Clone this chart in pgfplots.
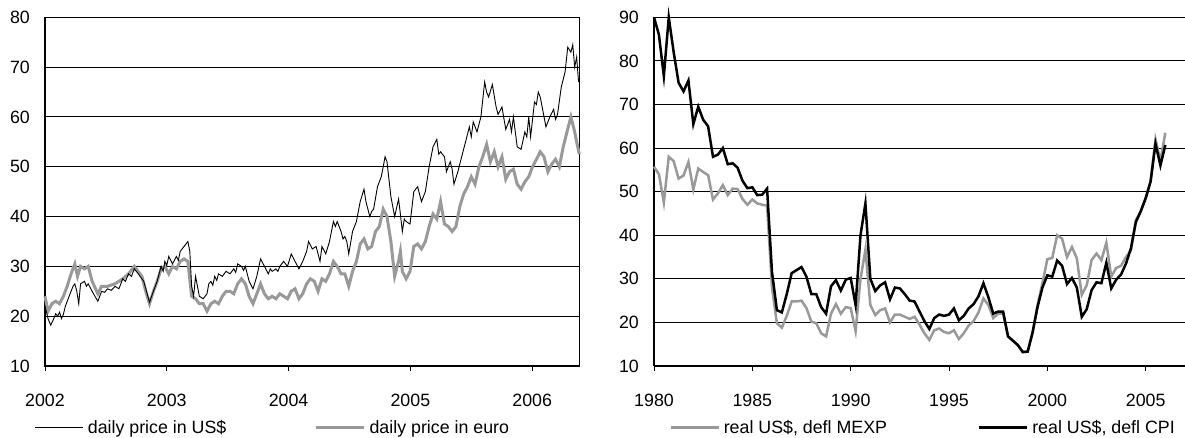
\documentclass[border=0pt]{standalone}
\usepackage{fontspec}
\setmainfont{Liberation Sans}
\usepackage{pgfplots}
\usepackage{pgfplotstable}
\pgfplotsset{compat=1.18}
\definecolor{lg}{RGB}{153,153,153}

\pgfplotstableread{
yr val
2002.000 22
2002.025 19.5
2002.047 18.2
2002.072 19.5
2002.088 20.5
2002.104 20
2002.120 20.8
2002.135 19.5
2002.150 20.3
2002.167 22
2002.198 24
2002.230 26
2002.245 26.5
2002.261 25
2002.277 22.5
2002.292 26.5
2002.324 27
2002.340 26
2002.355 26.5
2002.387 25
2002.410 24
2002.434 23
2002.465 25
2002.490 24.8
2002.513 25.5
2002.545 25.2
2002.575 26
2002.607 25.5
2002.638 27.5
2002.660 27
2002.686 28.5
2002.710 28
2002.733 29.5
2002.760 28.7
2002.780 28
2002.811 27
2002.858 22.8
2002.890 25
2002.921 27
2002.953 30
2002.970 29
2002.984 31
2003.000 30.2
2003.016 32
2003.047 30.5
2003.079 32
2003.095 31.2
2003.110 33
2003.142 34
2003.173 35
2003.189 33
2003.204 26
2003.220 24
2003.236 28
2003.252 26
2003.267 24
2003.299 23.5
2003.330 24.5
2003.345 26.5
2003.362 27
2003.378 26.2
2003.393 28
2003.410 27.2
2003.425 28.5
2003.456 28
2003.487 29
2003.519 28.5
2003.550 29.5
2003.566 28.8
2003.582 30.5
2003.613 30
2003.630 29.2
2003.645 30
2003.676 27
2003.708 25.5
2003.739 28
2003.770 31.5
2003.802 30
2003.833 28.5
2003.850 29.5
2003.865 29
2003.896 29.5
2003.912 29
2003.928 30
2003.959 31
2003.991 30
2004.022 32.5
2004.053 31
2004.085 29.5
2004.116 31
2004.148 33
2004.164 35
2004.195 33.5
2004.226 34
2004.258 31
2004.274 34
2004.305 32.5
2004.336 35
2004.368 39
2004.384 38
2004.399 39
2004.431 37
2004.447 35.5
2004.462 36
2004.478 35
2004.494 32.5
2004.525 37
2004.557 39
2004.588 43
2004.619 45.5
2004.635 43
2004.667 40
2004.682 41
2004.698 41.5
2004.730 46
2004.761 48
2004.777 50
2004.792 52
2004.808 51
2004.840 44
2004.871 40
2004.903 43.5
2004.918 40.5
2004.934 37
2004.950 39.5
2004.965 39
2004.997 38.5
2005.028 45
2005.060 46
2005.075 44.5
2005.091 43
2005.123 45
2005.154 50
2005.186 54
2005.217 55.5
2005.233 52.5
2005.248 53
2005.280 52
2005.296 49
2005.327 51
2005.343 49.5
2005.358 46.5
2005.390 49
2005.421 52
2005.453 55
2005.469 56.5
2005.484 58
2005.500 56
2005.516 59
2005.547 57
2005.579 60
2005.610 67
2005.626 65
2005.642 64
2005.673 66.5
2005.704 62
2005.720 60.5
2005.752 62
2005.783 57.5
2005.799 58.5
2005.814 59.5
2005.830 57
2005.846 60
2005.877 54
2005.909 53.5
2005.940 57
2005.956 56
2005.972 60
2005.987 56
2006.019 63
2006.035 62.5
2006.050 65
2006.066 64
2006.082 62
2006.113 58
2006.129 59
2006.145 60
2006.176 61.5
2006.192 59.5
2006.208 60.5
2006.239 66
2006.270 69
2006.292 74
2006.318 73
2006.333 74.5
2006.349 70
2006.365 72
2006.381 67
}\usdtab

\pgfplotstableread{
yr val
2002.000 24
2002.025 21
2002.057 22.5
2002.088 23
2002.119 22.5
2002.151 24
2002.182 26
2002.214 28.5
2002.245 30.5
2002.267 28
2002.292 30
2002.324 29.5
2002.355 30
2002.387 27
2002.434 24.5
2002.465 26
2002.513 26
2002.575 26.5
2002.638 27.5
2002.686 28.5
2002.733 30
2002.764 29
2002.796 28
2002.827 25
2002.858 22.5
2002.890 25
2002.921 27
2002.953 29.5
2002.984 30
2003.016 28.5
2003.047 30
2003.079 29.5
2003.110 31
2003.142 31.5
2003.173 31
2003.204 24
2003.236 23.5
2003.267 22.5
2003.299 22.5
2003.330 21
2003.362 22.5
2003.393 23
2003.425 22.5
2003.456 24
2003.487 25
2003.519 25
2003.550 24.5
2003.582 26.5
2003.613 27.5
2003.645 26.5
2003.676 24
2003.708 22.5
2003.739 24.5
2003.770 26.5
2003.802 24.5
2003.833 23.5
2003.865 24
2003.896 23.5
2003.928 24.5
2003.959 24
2003.991 23.5
2004.022 25
2004.053 25.5
2004.085 23.5
2004.116 24.5
2004.148 26.5
2004.179 27.5
2004.211 27
2004.242 25
2004.274 27.5
2004.305 27
2004.336 28.5
2004.368 31
2004.399 30
2004.431 28.5
2004.462 28.5
2004.494 26
2004.525 29
2004.557 31
2004.588 34.5
2004.619 35.5
2004.651 33.5
2004.682 34
2004.714 37
2004.745 38
2004.777 41.5
2004.808 40
2004.840 35
2004.871 28
2004.903 31
2004.918 33
2004.934 29
2004.965 27.5
2004.997 29
2005.028 34
2005.060 34.5
2005.091 33.5
2005.123 35
2005.154 38
2005.186 40.5
2005.217 39.5
2005.248 43
2005.280 38.5
2005.311 38
2005.343 37
2005.374 38
2005.406 42
2005.437 44.5
2005.469 46
2005.500 48
2005.531 46.5
2005.563 50
2005.594 52
2005.626 54.5
2005.657 51
2005.689 53
2005.720 50
2005.752 52
2005.783 47.5
2005.814 49
2005.846 49.5
2005.877 46.5
2005.909 45.5
2005.940 47
2005.972 48
2006.003 50
2006.035 51.5
2006.066 53
2006.097 52
2006.129 49
2006.160 50.5
2006.192 51.5
2006.223 50
2006.255 54
2006.286 57
2006.318 60
2006.349 57
2006.365 55
2006.387 52.5
}\eurtab

\pgfplotstableread{
yr cpi mexp
1980.00 90 55.7
1980.25 86 54
1980.50 76.5 47.5
1980.75 90 58
1981.00 82 57
1981.25 75 53
1981.50 73 53.7
1981.75 75.5 56.8
1982.00 65.5 50.5
1982.25 69.5 55.3
1982.50 66.5 54.5
1982.75 65 53.8
1983.00 58 48.2
1983.25 58.5 49.6
1983.50 60 51.5
1983.75 56.3 49.2
1984.00 56.5 50.7
1984.25 55.5 50.6
1984.50 52.5 48.3
1984.75 50.8 47
1985.00 51 48.2
1985.25 49.2 47.3
1985.50 49.3 47
1985.75 50.7 46.8
1986.00 31.5 28
1986.25 22.8 19.8
1986.50 22.3 18.8
1986.75 26.5 21.5
1987.00 31.3 24.8
1987.25 32 24.8
1987.50 32.7 25
1987.75 30.5 23.3
1988.00 26.5 20.2
1988.25 26.5 19.8
1988.50 23.5 17.5
1988.75 22 16.8
1989.00 28.3 22
1989.25 29.7 24.2
1989.50 27.3 22
1989.75 29.8 23.5
1990.00 30.2 23.3
1990.25 24 18
1990.50 40 30
1990.75 47.3 36.7
1991.00 30 24
1991.25 27.2 21.7
1991.50 28.5 22.8
1991.75 29.2 23.2
1992.00 25.3 20
1992.25 28 21.8
1992.50 27.8 21.8
1992.75 26.5 21.3
1993.00 25 20.8
1993.25 24.8 21.3
1993.50 22.5 19.5
1993.75 20.3 17.5
1994.00 18.5 16
1994.25 21 18.2
1994.50 21.8 18.6
1994.75 21.5 17.8
1995.00 21.8 17.5
1995.25 23.2 18.2
1995.50 20.5 16.2
1995.75 21.5 17.5
1996.00 23.2 19.3
1996.25 24.2 20.3
1996.50 26 22.3
1996.75 29 25.5
1997.00 25.8 24
1997.25 22 21
1997.50 22.5 22
1997.75 22.5 22
1998.00 16.8 16.8
1998.25 15.8 15.8
1998.50 14.8 14.8
1998.75 13.2 13.2
1999.00 13.3 13.3
1999.25 17.7 17.7
1999.50 23.5 24
1999.75 28 29
2000.00 30.8 34.5
2000.25 30.5 34.8
2000.50 34.2 40
2000.75 33 39.2
2001.00 28.8 35
2001.25 30.2 37.3
2001.50 28 34.7
2001.75 21.3 26.3
2002.00 23 28.5
2002.25 27.4 34.3
2002.50 29.2 35.8
2002.75 29 34.3
2003.00 33.7 38.3
2003.25 27.8 30.5
2003.50 29.8 32.5
2003.75 31 33
2004.00 33.5 35
2004.25 37 36.5
2004.50 43 43.5
2004.75 45.5 45.5
2005.00 48.5 48.5
2005.25 52.3 52.5
2005.50 61 62
2005.75 56 57
2006.00 60.7 63.5
}\realtab

\pgfplotsset{
  myax/.style={
    scale only axis, height=348.7bp, ymin=10,
    anchor=south west,
    tick align=outside, major tick length=5bp,
    xtick pos=left, ytick pos=left,
    ytick style={draw=none},
    xtick style={black, line width=1bp},
    ymajorgrids, grid style={black, line width=1bp},
    /pgf/number format/assume math mode=true,
    /pgf/number format/1000 sep={},
    tick label style={font=\fontsize{17.8bp}{20bp}\selectfont, inner sep=0pt},
    yticklabel style={xshift=-10bp},
    xticklabel style={yshift=-23bp},
    clip=false,
    legend columns=2,
    legend cell align=left,
    legend image code/.code={\draw[##1,line cap=butt] (0bp,0bp) -- (48bp,0bp);},
    legend style={draw=none, fill=none, inner sep=0pt, outer sep=0pt, anchor=west,
      font=\fontsize{17.8bp}{20bp}\selectfont, nodes={inner sep=0pt},
      /tikz/every odd column/.append style={column sep=4bp}},
  }
}

\begin{document}
\begin{tikzpicture}
\path[use as bounding box] (0bp,0bp) rectangle (1185bp,438bp);

\begin{axis}[myax,
  at={(45bp,72bp)}, width=534.3bp,
  xmin=2002, xmax=2006.387, ymax=80,
  xtick={2002,2003,2004,2005,2006},
  ytick={10,20,30,40,50,60,70,80},
  axis line style={black, line width=1.2bp},
  legend style={at={(-0.01872,-0.17695)}},
]
\addplot[lg, line width=3bp, forget plot] table[x=yr, y=val] {\eurtab};
\addplot[black, line width=0.9bp] table[x=yr, y=val] {\usdtab};
\addlegendentry{\makebox[227bp][l]{daily price in US\$}}
\addlegendimage{lg, line width=2.7bp}
\addlegendentry{daily price in euro}
\end{axis}

\begin{axis}[myax,
  at={(654bp,72bp)}, width=531bp,
  xmin=1980, xmax=2007, ymax=90,
  axis x line*=bottom, axis y line*=left,
  xtick={1980,1985,1990,1995,2000,2005},
  ytick={10,20,30,40,50,60,70,80,90},
  axis line style={black, line width=1.2bp},
  legend style={at={(0.0288,-0.17695)}},
]
\addplot[lg, line width=2.5bp] table[x=yr, y=mexp] {\realtab};
\addlegendentry{\makebox[254bp][l]{real US\$, defl MEXP}}
\addplot[black, line width=2.5bp] table[x=yr, y=cpi] {\realtab};
\addlegendentry{real US\$, defl CPI}
\end{axis}
\end{tikzpicture}
\end{document}
